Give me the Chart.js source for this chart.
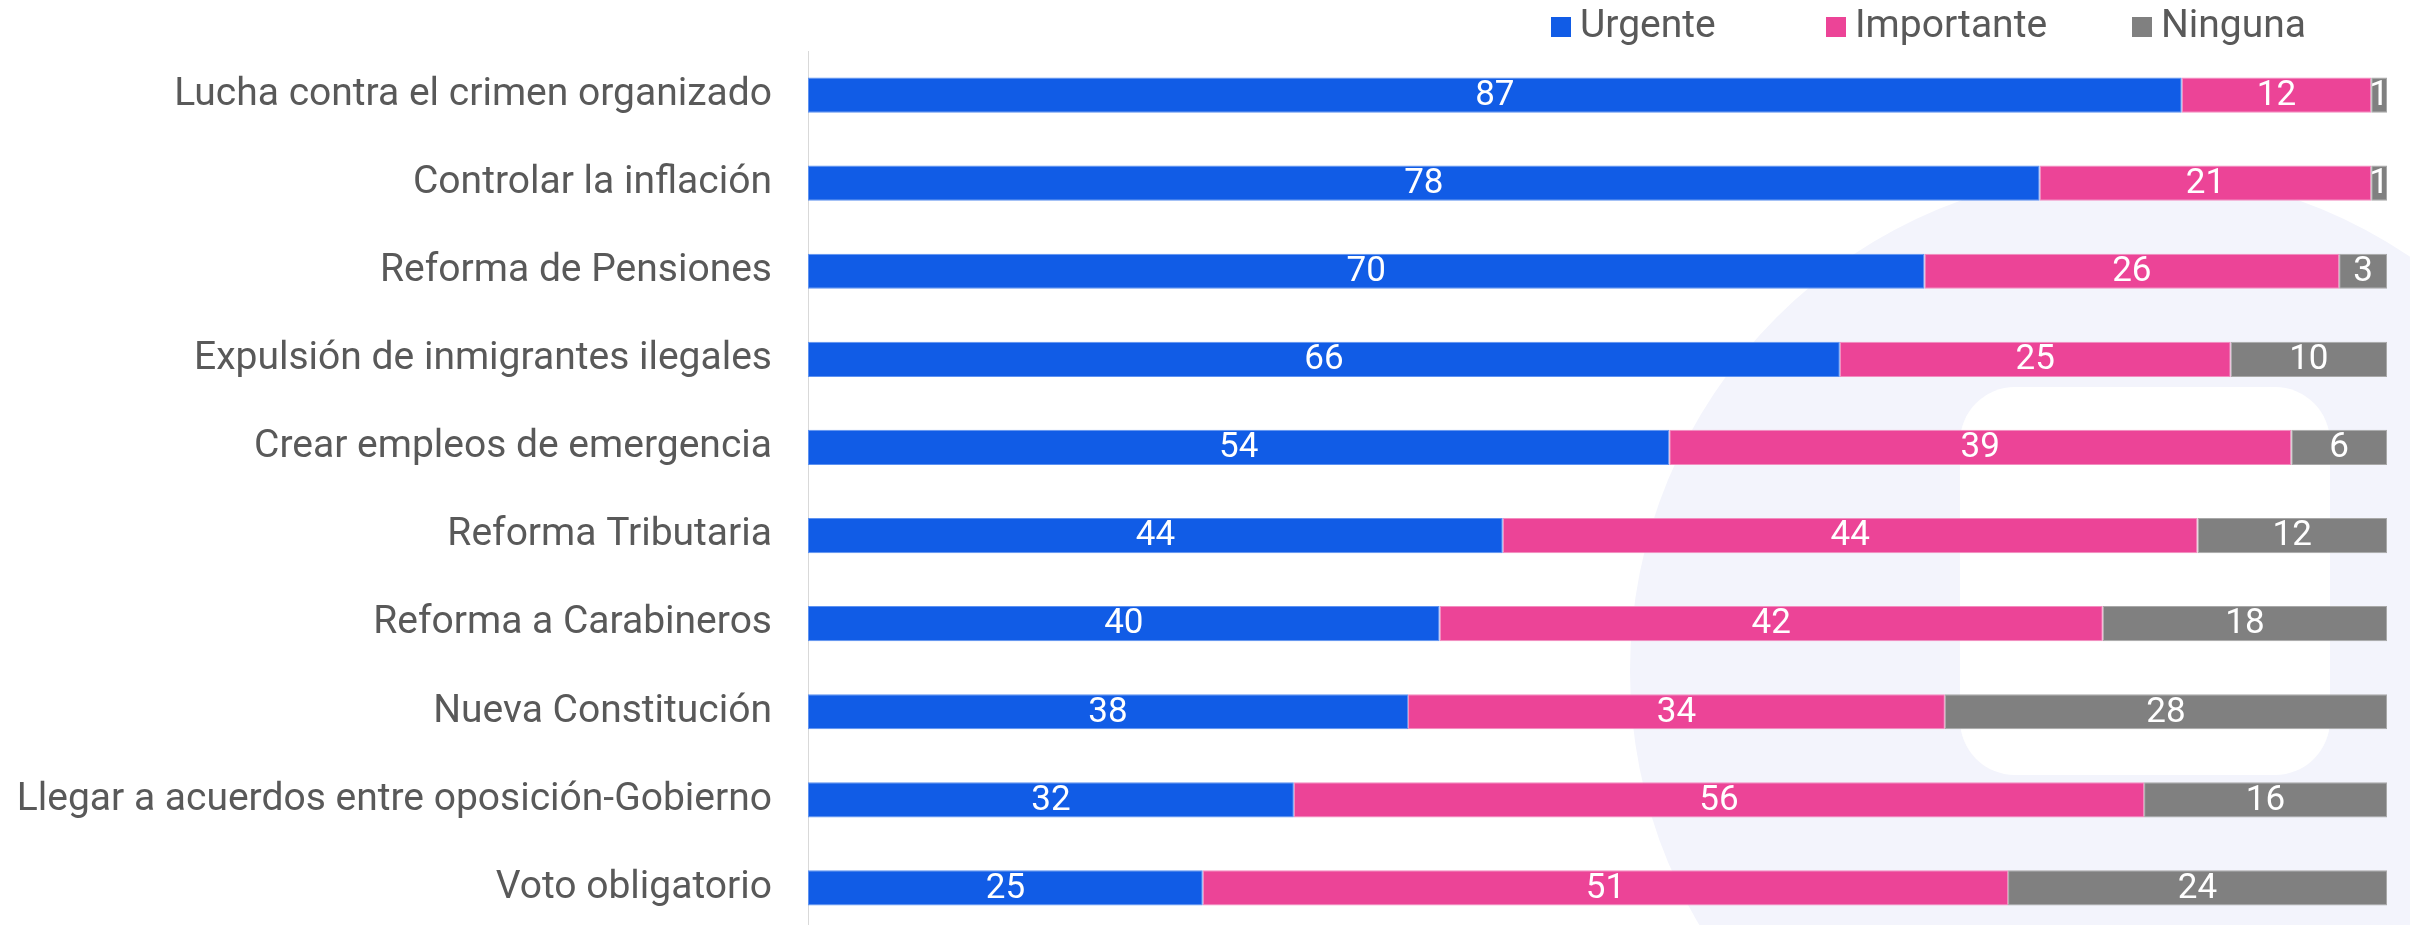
<!DOCTYPE html>
<html>
<head>
<meta charset="utf-8">
<script src="https://cdn.jsdelivr.net/npm/chart.js@4.4.1/dist/chart.umd.min.js"></script>
<style>
  html, body { margin: 0; padding: 0; background: #ffffff; overflow: hidden; }
  #wrap { width: 2410px; height: 932px; position: relative; }
</style>
</head>
<body>
<div id="wrap"><canvas id="c" width="2410" height="932"></canvas></div>
<script>
const categories = [
  'Lucha contra el crimen organizado',
  'Controlar la inflación',
  'Reforma de Pensiones',
  'Expulsión de inmigrantes ilegales',
  'Crear empleos de emergencia',
  'Reforma Tributaria',
  'Reforma a Carabineros',
  'Nueva Constitución',
  'Llegar a acuerdos entre oposición-Gobierno',
  'Voto obligatorio'
];
const seriesNames = ['Urgente', 'Importante', 'Ninguna'];
const urgente    = [87, 78, 70, 66, 54, 44, 40, 38, 32, 25];
const importante = [12, 21, 26, 25, 39, 44, 42, 34, 56, 51];
const ninguna    = [1, 1, 3, 10, 6, 12, 18, 28, 16, 24];

const colors = ['#115CE6', '#EC4497', '#808080'];
const borders = ['#5E92F0', '#F28DBF', '#A8A8A8'];
const FONT = 'Roboto, "Open Sans", sans-serif';

const raw = [urgente, importante, ninguna];
const totals = categories.map((_, i) => urgente[i] + importante[i] + ninguna[i]);
const shares = raw.map(arr => arr.map((v, i) => v / totals[i] * 100));

const watermark = {
  id: 'watermark',
  beforeDraw(chart) {
    const ctx = chart.ctx;
    ctx.save();
    ctx.fillStyle = '#F3F4FC';
    ctx.beginPath();
    ctx.arc(2130, 671, 500, 0, Math.PI * 2);
    ctx.fill();
    ctx.fillStyle = '#ffffff';
    ctx.beginPath();
    if (ctx.roundRect) { ctx.roundRect(1960, 387, 370, 388, 55); } else { ctx.rect(1960, 387, 370, 388); }
    ctx.fill();
    ctx.restore();
  }
};

const valueLabels = {
  id: 'valueLabels',
  afterDatasetsDraw(chart) {
    const ctx = chart.ctx;
    ctx.save();
    ctx.font = '35px ' + FONT;
    ctx.fillStyle = '#ffffff';
    ctx.textAlign = 'center';
    ctx.textBaseline = 'middle';
    chart.data.datasets.forEach((ds, di) => {
      const meta = chart.getDatasetMeta(di);
      meta.data.forEach((el, i) => {
        const p = el.getProps(['x', 'y', 'base'], true);
        const cx = (p.x + p.base) / 2;
        ctx.fillText(String(raw[di][i]), cx, p.y + 1);
      });
    });
    ctx.restore();
  }
};

const legendX = [1551, 1826, 2132];
const customLegend = {
  id: 'customLegend',
  afterDraw(chart) {
    const ctx = chart.ctx;
    ctx.save();
    ctx.font = '39px ' + FONT;
    ctx.textBaseline = 'middle';
    ctx.textAlign = 'left';
    seriesNames.forEach((name, i) => {
      ctx.fillStyle = colors[i];
      ctx.fillRect(legendX[i], 17, 20, 20);
      ctx.fillStyle = '#595959';
      ctx.fillText(name, legendX[i] + 29, 27);
    });
    ctx.restore();
  }
};

new Chart(document.getElementById('c'), {
  type: 'bar',
  data: {
    labels: categories,
    datasets: seriesNames.map((name, i) => ({
      label: name,
      data: shares[i],
      backgroundColor: colors[i],
      borderColor: borders[i],
      borderWidth: 1,
      borderSkipped: false,
      barPercentage: 0.4,
      categoryPercentage: 1.0
    }))
  },
  options: {
    indexAxis: 'y',
    responsive: false,
    animation: false,
    devicePixelRatio: 1,
    layout: { padding: { top: 51, right: 23, bottom: 0, left: 0 } },
    plugins: {
      legend: { display: false },
      tooltip: { enabled: false },
      title: { display: false }
    },
    scales: {
      x: {
        stacked: true,
        display: false,
        min: 0,
        max: 100
      },
      y: {
        stacked: true,
        grid: { display: false, drawTicks: false },
        border: { display: true, color: '#D9D9D9', width: 1 },
        ticks: {
          color: '#595959',
          font: { family: FONT, size: 39 },
          padding: 36
        },
        afterFit(scale) {
          scale.width = 808;
          scale.paddingTop = 0;
          scale.paddingBottom = 0;
        }
      }
    }
  },
  plugins: [watermark, valueLabels, customLegend]
});
</script>
</body>
</html>
